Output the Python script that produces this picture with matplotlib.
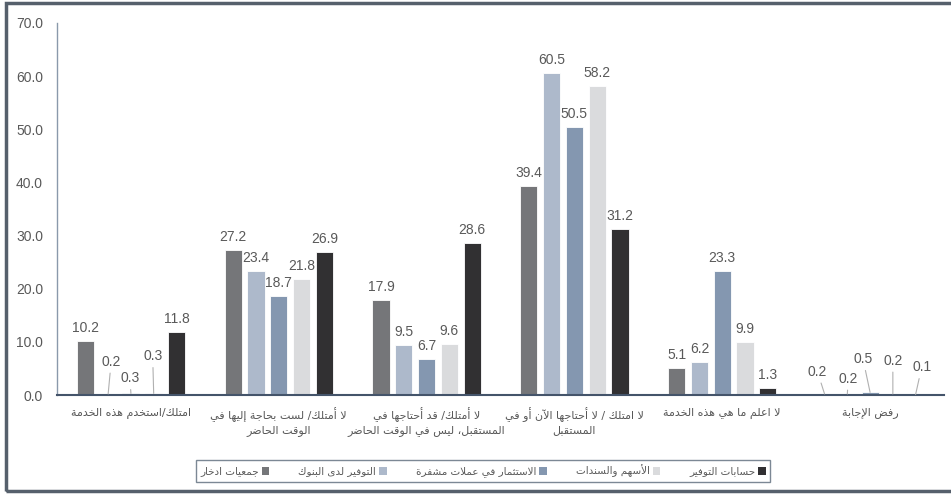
import numpy as np
import matplotlib
matplotlib.use("Agg")
import matplotlib.pyplot as plt
from matplotlib.patches import Rectangle, Patch

# ---- data ----
categories = [
    "امتلك/استخدم هذه الخدمة",
    "لا أمتلك/ لست بحاجة إليها في\nالوقت الحاضر",
    "لا أمتلك/ قد أحتاجها في\nالمستقبل، ليس في الوقت الحاضر",
    "لا امتلك / لا أحتاجها الآن أو في\nالمستقبل",
    "لا اعلم ما هي هذه الخدمة",
    "رفض الإجابة",
]
series_names = [
    "جمعيات ادخار",
    "التوفير لدى البنوك",
    "الاستثمار في عملات مشفرة",
    "الأسهم والسندات",
    "حسابات التوفير",
]
savings_groups = [10.2, 27.2, 17.9, 39.4, 5.1, 0.2]
bank_savings = [0.2, 23.4, 9.5, 60.5, 6.2, 0.2]
crypto = [0.3, 18.7, 6.7, 50.5, 23.3, 0.5]
stocks_bonds = [0.3, 21.8, 9.6, 58.2, 9.9, 0.2]
savings_accounts = [11.8, 26.9, 28.6, 31.2, 1.3, 0.1]
values = [savings_groups, bank_savings, crypto, stocks_bonds, savings_accounts]

colors = ["#757679", "#adb9cb", "#8497b0", "#dadbdd", "#313032"]

# label offsets (pixels) for the tiny bars that use leader lines: (group, series) -> (dx, dy)
leader_offsets = {
    (0, 1): (3, 32), (0, 2): (-1, 15), (0, 3): (-1, 37),
    (5, 0): (-7, 22), (5, 1): (1, 15), (5, 2): (-7, 33), (5, 3): (0, 33), (5, 4): (6, 27),
}

# ---- minimal arabic shaping (presentation forms) + visual reordering ----
DUAL = {'ئ': 0xFE89, 'ب': 0xFE8F, 'ت': 0xFE95, 'ث': 0xFE99, 'ج': 0xFE9D, 'ح': 0xFEA1,
        'خ': 0xFEA5, 'س': 0xFEB1, 'ش': 0xFEB5, 'ص': 0xFEB9, 'ض': 0xFEBD, 'ط': 0xFEC1,
        'ظ': 0xFEC5, 'ع': 0xFEC9, 'غ': 0xFECD, 'ف': 0xFED1, 'ق': 0xFED5, 'ك': 0xFED9,
        'ل': 0xFEDD, 'م': 0xFEE1, 'ن': 0xFEE5, 'ه': 0xFEE9, 'ي': 0xFEF1}
RIGHT = {'آ': 0xFE81, 'أ': 0xFE83, 'ؤ': 0xFE85, 'إ': 0xFE87, 'ا': 0xFE8D, 'ة': 0xFE93,
         'د': 0xFEA9, 'ذ': 0xFEAB, 'ر': 0xFEAD, 'ز': 0xFEAF, 'و': 0xFEED, 'ى': 0xFEEF}
LAM_ALEF = {'آ': 0xFEF5, 'أ': 0xFEF7, 'إ': 0xFEF9, 'ا': 0xFEFB}


def shape_line(s):
    units = []  # (kind, base)
    i = 0
    while i < len(s):
        c = s[i]
        if c == 'ل' and i + 1 < len(s) and s[i + 1] in LAM_ALEF:
            units.append(('R', LAM_ALEF[s[i + 1]]))
            i += 2
            continue
        if c in DUAL:
            units.append(('D', DUAL[c]))
        elif c in RIGHT:
            units.append(('R', RIGHT[c]))
        else:
            units.append(('N', c))
        i += 1
    out = []
    for k, (kind, base) in enumerate(units):
        if kind == 'N':
            out.append(base)
            continue
        prev_j = k > 0 and units[k - 1][0] == 'D'
        next_j = kind == 'D' and k + 1 < len(units) and units[k + 1][0] in 'DR'
        if kind == 'D':
            off = 3 if (prev_j and next_j) else 1 if prev_j else 2 if next_j else 0
        else:
            off = 1 if prev_j else 0
        out.append(chr(base + off))
    return ''.join(out)[::-1]


def ar(s):
    return '\n'.join(shape_line(line) for line in s.split('\n'))


plt.rcParams['font.family'] = ['Liberation Sans', 'DejaVu Sans']

fig = plt.figure(figsize=(9.51, 4.94), dpi=100)
W, H = 951, 494
ax = fig.add_axes([57 / W, (H - 395) / H, (944 - 57) / W, (395 - 23) / H])

x = np.arange(len(categories))
pitch = 0.154
width = 0.116
txt_col = "#595959"

for s, vals in enumerate(values):
    pos = x + (s - 2) * pitch
    ax.bar(pos, vals, width, color=colors[s], edgecolor="white", linewidth=0.6, zorder=2)
    for g, v in enumerate(vals):
        if (g, s) in leader_offsets:
            dx, dy = leader_offsets[(g, s)]
            ax.annotate(f"{v:.1f}", xy=(pos[g], v), xytext=(dx, dy), textcoords="offset pixels",
                        ha="center", va="center", fontsize=10, color=txt_col,
                        arrowprops=dict(arrowstyle="-", color="#b0b0b0", lw=0.8,
                                        shrinkA=1, shrinkB=0))
        else:
            ax.annotate(f"{v:.1f}", xy=(pos[g], v), xytext=(0, 6), textcoords="offset pixels",
                        ha="center", va="bottom", fontsize=10, color=txt_col)

ax.set_xlim(-0.5, len(categories) - 0.5)
ax.set_ylim(0, 70)
ax.set_yticks(np.arange(0, 71, 10))
ax.set_yticklabels([f"{t:.1f}" for t in np.arange(0, 71, 10)])
ax.set_xticks(x)
ax.set_xticklabels([ar(c) for c in categories], fontsize=8, color=txt_col,
                   family=['DejaVu Sans'], linespacing=1.35)
ax.tick_params(axis='x', length=0, pad=9)
ax.tick_params(axis='y', length=0, pad=10, labelsize=10, labelcolor=txt_col)
for side in ("top", "right"):
    ax.spines[side].set_visible(False)
ax.spines["left"].set_color("#8a99ab")
ax.spines["left"].set_linewidth(1)
ax.spines["bottom"].set_color("#44546a")
ax.spines["bottom"].set_linewidth(1.5)

handles = [Patch(facecolor=c, edgecolor="none") for c in colors]
leg = fig.legend(handles, [ar(n) for n in series_names], ncol=5, loc="center",
                 bbox_to_anchor=(483 / W, (H - 471) / H), markerfirst=False,
                 handlelength=0.7, handleheight=0.7, handletextpad=0.3, columnspacing=2.8,
                 fancybox=False, frameon=True, prop={'family': 'DejaVu Sans', 'size': 7.5},
                 borderpad=0.45)
leg.get_frame().set_edgecolor("#5b6b7b")
leg.get_frame().set_linewidth(1)
for t in leg.get_texts():
    t.set_color(txt_col)

# outer frame
fig.add_artist(Rectangle((5.5 / W, 3.5 / H), 1.0, (H - 6.5) / H, transform=fig.transFigure,
                         fill=False, edgecolor="#56606c", linewidth=2.5))

fig.savefig("out.png", dpi=100, facecolor="white")
